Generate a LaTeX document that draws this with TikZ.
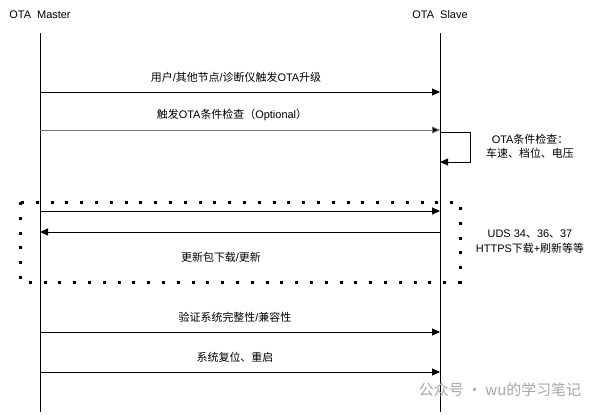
\documentclass[tikz,border=0pt]{standalone}
\usepackage{fontspec}
\setmainfont{Liberation Sans}
\newfontfamily\cjk{Noto Sans CJK SC}
\newcommand{\zh}[1]{{\cjk #1}}
\usetikzlibrary{arrows.meta}
\begin{document}
\begin{tikzpicture}[x=1bp,y=-1bp,
  txt/.style={font=\fontsize{11}{13}\selectfont, inner sep=0pt, align=center},
  msg/.style={line width=0.9bp, -{Triangle[length=8bp,width=7bp]}},
  life/.style={line width=1bp},
  dotbox/.style={line width=3bp, dash pattern=on 3bp off 11.8bp}]
\useasboundingbox (0,0) rectangle (605,414);
% headers
\node[txt] (m) at (40,15) {OTA\ \ Master};
\node[txt] (s) at (440,15) {OTA\ \ Slave};
% lifelines
\coordinate (mtop) at (40,33);
\coordinate (mbot) at (40,412);
\coordinate (stop) at (440,33);
\coordinate (sbot) at (440,412);
\draw[life] (mtop) -- (mbot);
\draw[life] (stop) -- (sbot);
% messages
\coordinate (a1) at (40,92); \coordinate (b1) at (440,92);
\draw[msg] (a1) -- (b1);
\node[txt] (l1) at (236,77) {\zh{用户}/\zh{其他节点}/\zh{诊断仪触发}OTA\zh{升级}};
\coordinate (a2) at (40,130); \coordinate (b2) at (440,130);
\draw[msg, draw=black!55, -{Triangle[length=8bp,width=7bp,fill=black]}] (a2) -- (b2);
\node[txt] (l2) at (232,115) {\zh{触发}OTA\zh{条件检查（}Optional\zh{）}};
% self loop
\coordinate (c1) at (440,132); \coordinate (c2) at (470,132);
\coordinate (c3) at (470,162); \coordinate (c4) at (440,162);
\draw[msg] (c1) -- (c2) -- (c3) -- (c4);
\node[txt] (l3) at (530,146) {OTA\zh{条件检查：}\\[1pt]\zh{车速、档位、电压}};
% dotted box
\coordinate (d1) at (20,202); \coordinate (d2) at (460,282);
\draw[dotbox] (d1) rectangle (d2);
\coordinate (a5) at (40,211); \coordinate (b5) at (440,211);
\draw[msg] (a5) -- (b5);
\coordinate (a6) at (440,232); \coordinate (b6) at (40,232);
\draw[msg] (a6) -- (b6);
\node[txt] (l6) at (221,257) {\zh{更新包下载}/\zh{更新}};
\node[txt] (l7) at (530,242) {UDS 34\zh{、}36\zh{、}37\\[2pt]HTTPS\zh{下载}+\zh{刷新等等}};
% final messages
\coordinate (a8) at (40,332); \coordinate (b8) at (440,332);
\draw[msg] (a8) -- (b8);
\node[txt] (l8) at (235,317) {\zh{验证系统完整性}/\zh{兼容性}};
\coordinate (a9) at (40,372); \coordinate (b9) at (440,372);
\draw[msg] (a9) -- (b9);
\node[txt] (l9) at (235,357) {\zh{系统复位、重启}};
% watermark
\node[font=\cjk\fontsize{15}{17}\selectfont, text=black!35, inner sep=0pt] (wm) at (500,390) {公众号 · wu的学习笔记};
\end{tikzpicture}
\end{document}
